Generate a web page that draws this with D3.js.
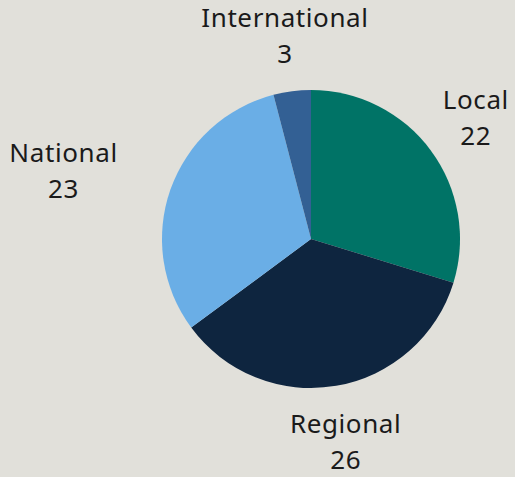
<!DOCTYPE html>
<html>
<head>
<meta charset="utf-8">
<script src="https://cdn.jsdelivr.net/npm/d3@7"></script>
<style>
  html, body { margin: 0; padding: 0; background: #e1e0da; }
  text { font-family: "Noto Sans", sans-serif; }
</style>
</head>
<body>
<div id="chart"></div>
<script>
const categories = ["Local", "Regional", "National", "International"];
const values = [22, 26, 23, 3];
const colors = ["#007366", "#0e253f", "#6aaee6", "#336094"];

const width = 515, height = 477;
const cx = 311, cy = 239, radius = 149, labelR = 205;

const svg = d3.select("#chart")
  .append("svg")
  .attr("width", width)
  .attr("height", height);

const data = categories.map((c, i) => ({ name: c, value: values[i], color: colors[i] }));

const pie = d3.pie().sort(null).value(d => d.value);
const arc = d3.arc().innerRadius(0).outerRadius(radius);
const arcs = pie(data);

const g = svg.append("g").attr("transform", `translate(${cx},${cy})`);

g.selectAll("path")
  .data(arcs)
  .enter()
  .append("path")
  .attr("d", arc)
  .attr("fill", d => d.data.color);

// labels outside, two lines (name / value)
const labels = g.selectAll("g.label")
  .data(arcs)
  .enter()
  .append("g")
  .attr("class", "label");

labels.each(function (d) {
  const a = (d.startAngle + d.endAngle) / 2;
  const s = Math.sin(a), c = Math.cos(a);
  const lab = d3.select(this);
  const t = lab.append("text")
    .attr("text-anchor", "middle")
    .attr("font-size", 26)
    .attr("letter-spacing", 0.6)
    .attr("fill", "#1a1a1a");
  t.append("tspan").attr("x", 0).attr("y", -8.5).text(d.data.name);
  t.append("tspan").attr("x", 0).attr("y", 27.5).text(d.data.value);
  const w = t.node().getBBox().width;
  let x = labelR * s, y = -labelR * c;
  if (Math.abs(s) > 0.9) x += Math.sign(s) * w / 2;
  lab.attr("transform", `translate(${x},${y})`);
});
</script>
</body>
</html>
